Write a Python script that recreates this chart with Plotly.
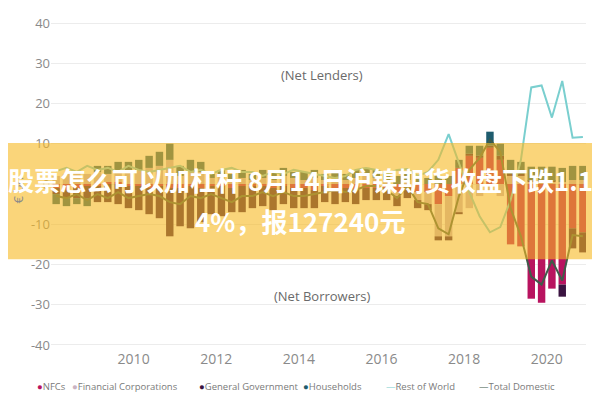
import plotly.graph_objects as go

# Sectoral net lending (+) / borrowing (-), EUR bn, quarterly 2008Q1 - 2020Q4
years = list(range(2008, 2021))
quarters = [f"{y}Q{q}" for y in years for q in range(1, 5)]

nfcs = [
    -1.0, -1.5, -1.0, -0.5,     # 2008
    -0.5, 0.5, 0.5, -0.5,       # 2009
    -0.5, -1.0, -0.5, -1.0,     # 2010
    -1.0, -0.5, -1.0, -0.5,     # 2011
    -0.5, -1.0, -0.5, -0.5,     # 2012
    -0.5, -1.0, -0.5, -1.0,     # 2013
    -1.0, -1.5, -0.5, -1.0,     # 2014
    -1.0, -1.5, -1.0, -1.0,     # 2015
    -1.5, -2.0, -1.0, -2.0,     # 2016
    -2.0, -5.0, -3.0, 4.0,      # 2017
    7.0, 6.5, 9.0, 6.0,         # 2018
    -15.0, -15.5, -28.5, -29.5,  # 2019
    -26.0, -25.0, -11.0, -12.0,  # 2020
]
fin_corps = [
    2.0, 2.5, 3.0, 2.5,
    3.0, 2.0, 2.5, 3.0,
    3.5, 4.0, 4.5, 6.0,
    2.0, 3.0, 3.0, 1.5,
    2.0, 1.0, 1.5, 1.0,
    1.5, 1.0, 2.0, 1.5,
    1.0, 1.5, 1.0, 1.5,
    1.0, 1.5, 2.0, 1.5,
    1.0, -1.0, 1.0, -2.0,
    -3.0, -8.0, -10.0, -7.0,
    -6.0, -3.0, -2.0, -3.0,
    2.0, 2.0, 0.5, 0.5,
    0.5, 0.5, 1.0, 1.0,
]
gen_gov = [
    -1.5, -2.0, -2.5, -3.0,
    -4.0, -4.5, -5.0, -5.5,
    -6.0, -6.5, -8.0, -12.0,
    -9.5, -10.5, -8.5, -7.0,
    -7.5, -6.0, -6.5, -5.5,
    -5.0, -5.5, -4.5, -5.0,
    -5.0, -4.5, -4.0, -4.0,
    -3.5, -3.5, -3.0, -3.0,
    -2.5, -2.5, -2.5, -2.0,
    -1.5, -1.0, -1.0, -0.5,
    0.5, 0.5, 0.5, 1.0,
    0.5, 0.5, 0.3, 0.3,
    0.3, -3.0, -5.0, -5.0,
]
households = [
    -2.5, -2.0, -1.5, -2.0,
    1.5, 2.0, 2.5, 2.5,
    2.5, 3.0, 3.5, 4.0,
    2.5, 3.0, 2.5, 1.5,
    1.5, 1.5, 2.0, 1.5,
    2.0, 2.0, 2.0, 1.5,
    2.0, 2.0, 1.5, 2.0,
    1.5, 2.0, 2.0, 2.0,
    1.5, 2.0, 2.0, 1.5,
    1.5, 2.0, 2.0, 2.0,
    2.0, 2.5, 3.5, 3.0,
    3.5, 3.0, 3.5, 3.5,
    3.5, 3.5, 3.5, 3.5,
]
rest_of_world = [
    3.2, 4.0, 3.0, 4.5,
    3.5, 4.0, 3.0, 4.5,
    3.5, 3.0, 3.5, 4.0,
    4.5, 3.0, 3.5, 2.5,
    3.5, 4.0, 3.0, 3.0,
    2.0, 3.0, 2.5, 3.5,
    3.0, 2.5, 2.0, 1.5,
    2.0, 3.5, 4.0, 3.5,
    2.5, 3.5, 3.7, 2.0,
    3.0, 6.0, 12.4, 5.0,
    -2.0, -8.0, -12.0, -10.7,
    -4.0, 6.0, 24.0, 24.5,
    16.5, 25.6, 11.5, 11.7,
]
total_domestic = [
    -3.0, -3.5, -2.5, -4.0,
    -2.5, -3.5, -2.0, -3.5,
    -3.0, -2.5, -3.0, -4.5,
    -5.0, -3.0, -3.5, -2.5,
    -3.5, -4.5, -3.0, -3.0,
    -2.0, -3.0, -2.0, -3.0,
    -3.0, -2.5, -2.0, -1.5,
    -2.0, -1.5, -0.5, -0.5,
    -1.5, -3.5, -0.5, -4.5,
    -5.0, -11.0, -12.5, -3.0,
    3.5, 6.5, 11.0, 8.0,
    -6.0, -13.0, -23.0, -25.0,
    -19.0, -24.0, -12.7, -13.0,
]

y_ticks = [40, 30, 20, 10, 0, -10, -20, -30, -40]
x_ticks = [2010, 2012, 2014, 2016, 2018, 2020]

banner_line1 = "股票怎么可以加杠杆 8月14日沪镍期货收盘下跌1.1"
banner_line2 = "4%，报127240元"

# quarter label -> decimal year at the middle of the quarter
x = [int(s[:4]) + (int(s[-1]) - 0.5) / 4 for s in quarters]

colors = {
    "NFCs": "#B8135F",
    "Financial Corporations": "#C9B3C3",
    "General Government": "#3A1340",
    "Households": "#1E5C6E",
    "Rest of World": "#7ACFCF",
    "Total Domestic": "#3F5B4A",
}

fig = go.Figure()
for name, vals in [("NFCs", nfcs), ("Financial Corporations", fin_corps),
                   ("General Government", gen_gov), ("Households", households)]:
    fig.add_trace(go.Bar(x=x, y=vals, name=name, width=0.18,
                         marker_color=colors[name], marker_line_width=0,
                         showlegend=False))

fig.add_trace(go.Scatter(x=x, y=rest_of_world, name="Rest of World", mode="lines",
                         line=dict(color=colors["Rest of World"], width=2),
                         showlegend=False))
fig.add_trace(go.Scatter(x=x, y=total_domestic, name="Total Domestic", mode="lines",
                         line=dict(color=colors["Total Domestic"], width=2),
                         showlegend=False))

gray = "#8a8a8a"
# page body has an 8px margin, so the figure is a little smaller than the window
fig.update_layout(
    width=592, height=392,
    margin=dict(l=43, r=14, t=6, b=51),
    barmode="relative",
    plot_bgcolor="white", paper_bgcolor="white",
    font=dict(family="Open Sans", color=gray),
    xaxis=dict(range=[2008.0, 2020.95], tickvals=x_ticks,
               showgrid=False, zeroline=False, showline=False,
               tickfont=dict(size=14, color=gray)),
    yaxis=dict(range=[-41, 41], tickvals=y_ticks, ticktext=[str(v) for v in y_ticks],
               showgrid=True, gridcolor="#ECECEC",
               zeroline=False, showline=False, tickfont=dict(size=13, color=gray)),
)

# window pixel -> paper coordinates (plot area spans x 51..586, y 14..349)
def px_x(px):
    return (px - 51) / 535


def px_y(py):
    return (349 - py) / 335


# sector labels
fig.add_annotation(x=2014.55, y=27.2, text="(Net Lenders)", showarrow=False,
                   font=dict(size=13, color="#6a6a6a"))
fig.add_annotation(x=2014.55, y=-27.9, text="(Net Borrowers)", showarrow=False,
                   font=dict(size=13, color="#6a6a6a"))
fig.add_annotation(xref="paper", yref="paper", x=px_x(18), y=px_y(188), text="€ bn",
                   textangle=-90, showarrow=False, xanchor="center", yanchor="middle",
                   font=dict(size=13, color=gray))

# legend drawn as text items along the bottom (window pixel of each symbol)
legend_items = [
    ("NFCs", "●", 35), ("Financial Corporations", "●", 70),
    ("General Government", "●", 197), ("Households", "●", 301),
    ("Rest of World", "—", 384), ("Total Domestic", "—", 477),
]
for name, sym, px in legend_items:
    fig.add_annotation(
        xref="paper", yref="paper", x=px_x(px), y=px_y(387),
        xanchor="left", yanchor="middle", showarrow=False,
        text=f"<span style='color:{colors[name]}'>{sym}</span>{name}",
        font=dict(size=9.5, color="#7a7a7a"))

# yellow overlay banner with headline
fig.add_shape(type="rect", xref="paper", yref="paper",
              x0=-0.1, x1=1.04, y0=px_y(258), y1=px_y(140),
              fillcolor="rgba(246,185,33,0.6)", line_width=0, layer="above")
fig.add_annotation(xref="paper", yref="paper", x=px_x(300), y=px_y(177),
                   text=f"<b>{banner_line1}</b>", showarrow=False,
                   xanchor="center", yanchor="middle",
                   font=dict(family="Noto Sans CJK SC", size=26, color="white"))
fig.add_annotation(xref="paper", yref="paper", x=px_x(300), y=px_y(219),
                   text=f"<b>{banner_line2}</b>", showarrow=False,
                   xanchor="center", yanchor="middle",
                   font=dict(family="Noto Sans CJK SC", size=26, color="white"))

fig.write_html("out.html")
